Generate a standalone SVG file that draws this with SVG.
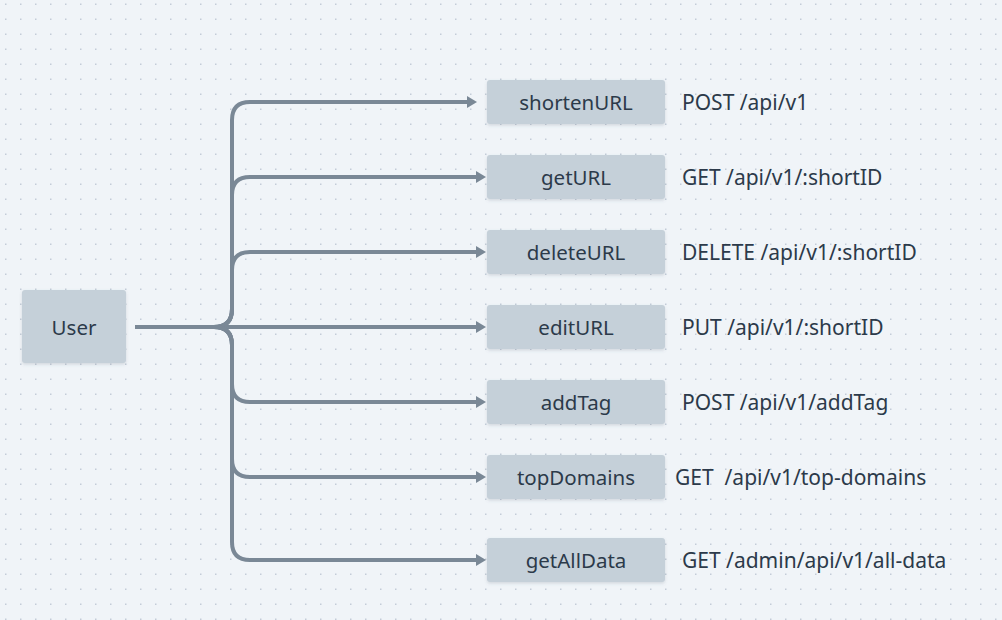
<svg xmlns="http://www.w3.org/2000/svg" width="1002" height="620" viewBox="0 0 1002 620">
<defs>
<pattern id="dots" x="0" y="0" width="15" height="15" patternUnits="userSpaceOnUse">
<rect x="5" y="3.5" width="1.5" height="1.5" fill="#c3ccd8"/>
</pattern>
<filter id="sh" x="-10%" y="-20%" width="120%" height="150%">
<feDropShadow dx="0" dy="1.5" stdDeviation="1.5" flood-color="#5a6a7a" flood-opacity="0.2"/>
</filter>
<marker id="arr" viewBox="0 0 10 12" refX="1" refY="6" markerWidth="10" markerHeight="12" markerUnits="userSpaceOnUse" orient="auto">
<path d="M0,0 L10,6 L0,12 Z" fill="#7a8896"/>
</marker>
<style>
.box{fill:#c5d0d9;filter:url(#sh)}
.nt{font-family:"Noto Sans","DejaVu Sans",sans-serif;font-size:20.5px;fill:#2c3a4a;text-anchor:middle;dominant-baseline:central}
.lt{font-family:"Noto Sans","DejaVu Sans",sans-serif;font-size:21px;fill:#2c3a4a;dominant-baseline:central}
.e{fill:none;stroke:#7a8896;stroke-width:4;marker-end:url(#arr)}
</style>
</defs>
<rect width="1002" height="620" fill="#f0f4f8"/>
<rect width="1002" height="620" fill="url(#dots)"/>
<g id="connectors">
<path class="e" d="M135,327 H214 Q232,327 232,309 V120 Q232,102 250,102 H468"/>
<path class="e" d="M135,327 H214 Q232,327 232,309 V195 Q232,177 250,177 H477"/>
<path class="e" d="M135,327 H214 Q232,327 232,309 V270 Q232,252 250,252 H477"/>
<path class="e" d="M135,327 H477"/>
<path class="e" d="M135,327 H214 Q232,327 232,345 V384 Q232,402 250,402 H477"/>
<path class="e" d="M135,327 H214 Q232,327 232,345 V459 Q232,477 250,477 H477"/>
<path class="e" d="M135,327 H214 Q232,327 232,345 V542 Q232,560 250,560 H477"/>
</g>
<g id="user"><rect class="box" x="22" y="290" width="104" height="73" rx="3"/><text class="nt" x="74" y="327">User</text></g>
<g id="shortenURL"><rect class="box" x="487" y="80" width="178" height="44" rx="3"/><text class="nt" x="576" y="102">shortenURL</text></g>
<g id="getURL"><rect class="box" x="487" y="155" width="178" height="44" rx="3"/><text class="nt" x="576" y="177">getURL</text></g>
<g id="deleteURL"><rect class="box" x="487" y="230" width="178" height="44" rx="3"/><text class="nt" x="576" y="252">deleteURL</text></g>
<g id="editURL"><rect class="box" x="487" y="305" width="178" height="44" rx="3"/><text class="nt" x="576" y="327">editURL</text></g>
<g id="addTag"><rect class="box" x="487" y="380" width="178" height="44" rx="3"/><text class="nt" x="576" y="402">addTag</text></g>
<g id="topDomains"><rect class="box" x="487" y="455" width="178" height="44" rx="3"/><text class="nt" x="576" y="477">topDomains</text></g>
<g id="getAllData"><rect class="box" x="487" y="538" width="178" height="44" rx="3"/><text class="nt" x="576" y="560">getAllData</text></g>
<g id="labels">
<text class="lt" x="682" y="102">POST /api/v1</text>
<text class="lt" x="682" y="177">GET /api/v1/:shortID</text>
<text class="lt" x="682" y="252">DELETE /api/v1/:shortID</text>
<text class="lt" x="682" y="327">PUT /api/v1/:shortID</text>
<text class="lt" x="682" y="402">POST /api/v1/addTag</text>
<text class="lt" x="675" y="477" xml:space="preserve">GET  /api/v1/top-domains</text>
<text class="lt" x="682" y="560">GET /admin/api/v1/all-data</text>
</g>
</svg>
